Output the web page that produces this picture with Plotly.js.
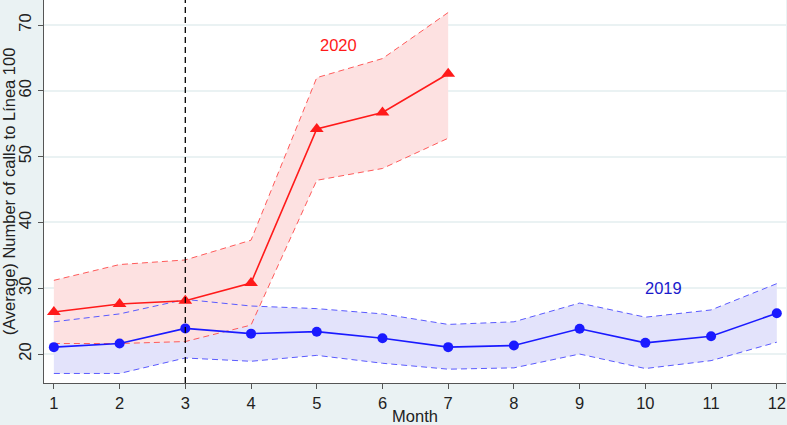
<!DOCTYPE html>
<html>
<head>
<meta charset="utf-8">
<script src="https://cdn.plot.ly/plotly-3.0.1.min.js"></script>
<style>body{margin:0;} #chart{width:787px;height:425px;}</style>
</head>
<body>
<div id="chart"></div>
<script>
var months = [1, 2, 3, 4, 5, 6, 7, 8, 9, 10, 11, 12];
var mean2019 = [21.05, 21.6, 23.9, 23.1, 23.4, 22.4, 21.05, 21.3, 23.85, 21.7, 22.7, 26.2];
var upper2019 = [24.9, 26.1, 28.3, 27.3, 26.9, 26.1, 24.5, 24.9, 27.75, 25.6, 26.7, 30.7];
var lower2019 = [17.05, 17.05, 19.4, 18.9, 19.8, 18.6, 17.7, 17.9, 20.0, 17.8, 19.0, 21.8];

var months2020 = [1, 2, 3, 4, 5, 6, 7];
var mean2020 = [26.4, 27.6, 28.1, 30.8, 54.2, 56.7, 62.6];
var upper2020 = [31.2, 33.6, 34.3, 37.3, 62.0, 64.9, 71.9];
var lower2020 = [21.6, 21.6, 21.9, 24.4, 46.4, 48.2, 52.8];

var blue = '#1a1aff', red = '#ff1a1a';

function band(x, lo, hi, fillcol) {
  return [
    {x: x, y: lo, type: 'scatter', mode: 'lines', line: {width: 0}, hoverinfo: 'skip', showlegend: false},
    {x: x, y: hi, type: 'scatter', mode: 'lines', line: {width: 0}, fill: 'tonexty', fillcolor: fillcol, hoverinfo: 'skip', showlegend: false}
  ];
}
function dash(x, y, col) {
  return {x: x, y: y, type: 'scatter', mode: 'lines', line: {color: col, width: 1, dash: '6px,4px'}, hoverinfo: 'skip', showlegend: false};
}

var data = [].concat(
  band(months, lower2019, upper2019, '#e3e3fb'),
  band(months2020, lower2020, upper2020, '#fde1e1'),
  [
    dash(months, upper2019, '#5a5aff'),
    dash(months, lower2019, '#5a5aff'),
    dash(months2020, upper2020, '#ff5a5a'),
    dash(months2020, lower2020, '#ff5a5a'),
    {x: months, y: mean2019, type: 'scatter', mode: 'lines+markers', name: '2019',
     line: {color: blue, width: 1.6}, marker: {color: blue, size: 10, symbol: 'circle'}},
    {x: months2020, y: mean2020, type: 'scatter', mode: 'lines+markers', name: '2020',
     line: {color: red, width: 1.6}, marker: {color: red, size: 12, symbol: 'triangle-up'}}
  ]
);

var layout = {
  width: 787,
  height: 425,
  showlegend: false,
  paper_bgcolor: '#eaf2f3',
  plot_bgcolor: '#ffffff',
  font: {family: 'Liberation Sans, Arial, sans-serif', color: '#222'},
  margin: {l: 44, r: 1, t: 0, b: 42},
  xaxis: {
    range: [0.85, 12.14], tickvals: months, showgrid: false, zeroline: false,
    showline: true, linecolor: '#555', linewidth: 1,
    ticks: 'outside', ticklen: 5, tickcolor: '#555', tickfont: {size: 16.5},
    title: {text: 'Month', font: {size: 16.5}, standoff: 1}
  },
  yaxis: {
    range: [15.6, 73.8], tickvals: [20, 30, 40, 50, 60, 70], tickangle: -90,
    showgrid: true, gridcolor: '#eaf2f3', gridwidth: 1.5, zeroline: false,
    showline: true, linecolor: '#555', linewidth: 1,
    ticks: 'outside', ticklen: 5, tickcolor: '#555', tickfont: {size: 16.5},
    title: {text: '(Average) Number of calls to Línea 100', font: {size: 16.5}, standoff: 4}
  },
  shapes: [
    {type: 'line', xref: 'x', yref: 'paper', x0: 3, x1: 3, y0: 0, y1: 1,
     line: {color: '#000', width: 1.3, dash: '6px,4px'}}
  ],
  annotations: [
    {x: 5.33, y: 67, xref: 'x', yref: 'y', text: '2020', showarrow: false, font: {color: red, size: 16.5}},
    {x: 10.28, y: 30, xref: 'x', yref: 'y', text: '2019', showarrow: false, font: {color: '#1a1acc', size: 16.5}}
  ]
};

Plotly.newPlot('chart', data, layout, {displayModeBar: false});
</script>
</body>
</html>
